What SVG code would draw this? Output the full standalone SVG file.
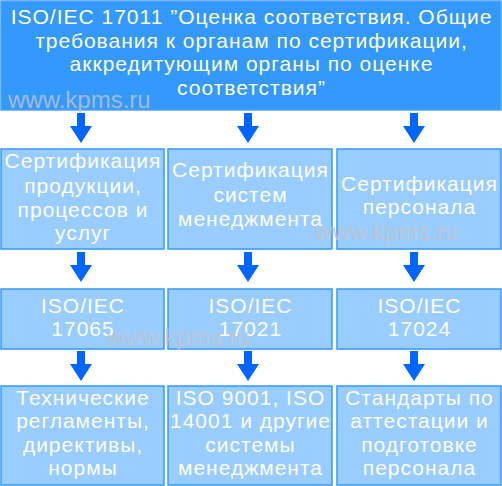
<svg xmlns="http://www.w3.org/2000/svg" width="502" height="486" viewBox="0 0 502 486">
<defs>
<style>
.top{fill:#3399FF;stroke:#4DA3FF;stroke-width:1.5}
.box{fill:#99CCFF;stroke:#3399FF;stroke-width:1.5}
.tt{font-family:"Liberation Sans",Arial,sans-serif;font-size:21px;letter-spacing:1px;fill:#FFFFCC;text-anchor:middle}
.bt{font-family:"Liberation Sans",Arial,sans-serif;font-size:21px;letter-spacing:1px;fill:#FFFFFF;text-anchor:middle}
.wm{font-family:"Liberation Sans",Arial,sans-serif;font-size:24px;fill:#C4C4C4;fill-opacity:0.8}
.arr{fill:#0066FF}
</style>
<path id="ar" d="M-4,0 H4 V13 H11 L0,30 L-11,13 H-4 Z"/>
</defs>
<rect width="502" height="486" fill="#FFFFFF"/>
<g id="top">
<rect class="top" x="1" y="1" width="500" height="109"/>
<text class="tt" x="251.5" y="24">ISO/IEC 17011 ”Оценка соответствия. Общие</text>
<text class="tt" x="251.5" y="48">требования к органам по сертификации,</text>
<text class="tt" x="251.5" y="71">аккредитующим органы по оценке</text>
<text class="tt" x="251.5" y="95">соответствия”</text>
</g>
<g id="connectors" class="arr">
<use href="#ar" x="81" y="113"/>
<use href="#ar" x="248" y="113"/>
<use href="#ar" x="414" y="113"/>
<use href="#ar" x="81" y="252"/>
<use href="#ar" x="248" y="252"/>
<use href="#ar" x="414" y="252"/>
<use href="#ar" x="81" y="351"/>
<use href="#ar" x="248" y="351"/>
<use href="#ar" x="414" y="351"/>
</g>
<g id="cert-products">
<rect class="box" x="1" y="149" width="163" height="100"/>
<text class="bt" x="83" y="168">Сертификация</text>
<text class="bt" x="83" y="193">продукции,</text>
<text class="bt" x="83" y="217">процессов и</text>
<text class="bt" x="83" y="240">услуг</text>
</g>
<g id="cert-systems">
<rect class="box" x="168" y="149" width="164" height="100"/>
<text class="bt" x="250.5" y="177">Сертификация</text>
<text class="bt" x="250.5" y="202">систем</text>
<text class="bt" x="250.5" y="226">менеджмента</text>
</g>
<g id="cert-personnel">
<rect class="box" x="337" y="149" width="164" height="100"/>
<text class="bt" x="419.5" y="191">Сертификация</text>
<text class="bt" x="419.5" y="214">персонала</text>
</g>
<g id="iso17065">
<rect class="box" x="1" y="289" width="163" height="60"/>
<text class="bt" x="83" y="313">ISO/IEC</text>
<text class="bt" x="83" y="336">17065</text>
</g>
<g id="iso17021">
<rect class="box" x="168" y="289" width="164" height="60"/>
<text class="bt" x="250.5" y="313">ISO/IEC</text>
<text class="bt" x="250.5" y="336">17021</text>
</g>
<g id="iso17024">
<rect class="box" x="337" y="289" width="164" height="60"/>
<text class="bt" x="419.5" y="313">ISO/IEC</text>
<text class="bt" x="419.5" y="336">17024</text>
</g>
<g id="tech-regs">
<rect class="box" x="1" y="386" width="163" height="99"/>
<text class="bt" x="83" y="405">Технические</text>
<text class="bt" x="83" y="428">регламенты,</text>
<text class="bt" x="83" y="452">директивы,</text>
<text class="bt" x="83" y="475">нормы</text>
</g>
<g id="iso9001">
<rect class="box" x="168" y="386" width="164" height="99"/>
<text class="bt" x="250.5" y="405">ISO 9001, ISO</text>
<text class="bt" x="250.5" y="428">14001 и другие</text>
<text class="bt" x="250.5" y="452">системы</text>
<text class="bt" x="250.5" y="475">менеджмента</text>
</g>
<g id="personnel-std">
<rect class="box" x="337" y="386" width="164" height="99"/>
<text class="bt" x="419.5" y="405">Стандарты по</text>
<text class="bt" x="419.5" y="428">аттестации и</text>
<text class="bt" x="419.5" y="452">подготовке</text>
<text class="bt" x="419.5" y="475">персонала</text>
</g>
<g id="watermarks">
<text class="wm" x="8" y="108">www.kpms.ru</text>
<text class="wm" x="315" y="240">www.kpms.ru</text>
<text class="wm" x="107" y="345">www.kpms.ru</text>
</g>
</svg>
